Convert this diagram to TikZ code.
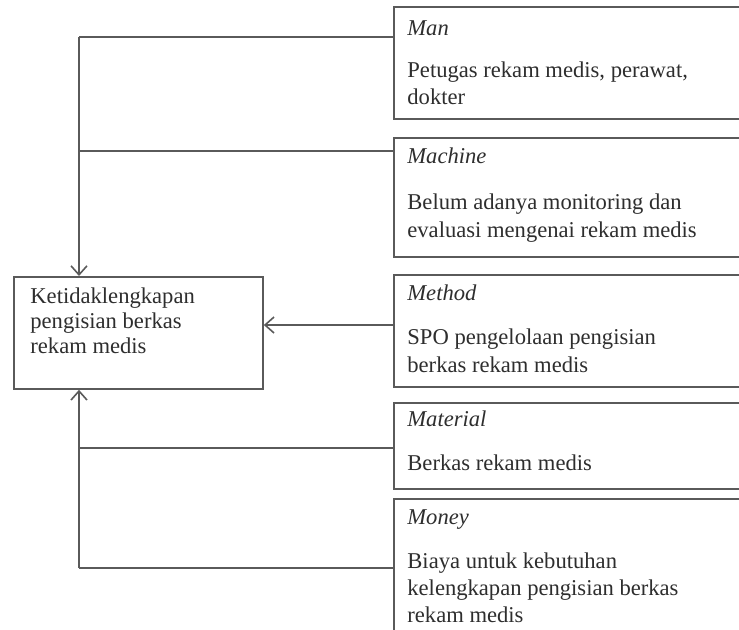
\documentclass[tikz,border=0pt]{standalone}
\usepackage{fontspec}
\setmainfont{Liberation Serif}
\usetikzlibrary{arrows.meta}
\definecolor{ln}{HTML}{5A5A5A}
\definecolor{tx}{HTML}{2E2E2E}
\tikzset{
  box/.style={draw=ln, line width=0.9pt, anchor=north west, inner sep=0pt},
  lbl/.style={anchor=base west, inner sep=0pt, text=tx, font=\fontsize{11.3}{13}\selectfont},
  conn/.style={draw=ln, line width=0.9pt},
  arr/.style={conn, -{Straight Barb[length=4.5pt,width=8pt,line width=0.8pt]}}
}
\begin{document}
\begin{tikzpicture}[x=0.5pt,y=-0.5pt]
\clip (0,0) rectangle (739,629);
\fill[white] (0,0) rectangle (739,629);
% effect box
\node[box, minimum width=124.5pt, minimum height=56pt] (eff) at (13,276) {};
\node[lbl] (e1) at (30,303) {Ketidaklengkapan};
\node[lbl] (e2) at (30,328) {pengisian berkas};
\node[lbl] (e3) at (30,353) {rekam medis};
% cause boxes
\node[box, minimum width=200pt, minimum height=56pt] (man) at (393,6) {};
\node[lbl] (t1) at (407,35) {\textit{Man}};
\node[lbl] at (407,77) {Petugas rekam medis, perawat,};
\node[lbl] at (407,104) {dokter};
\node[box, minimum width=200pt, minimum height=59.5pt] (mac) at (393,137) {};
\node[lbl] (t2) at (407,163) {\textit{Machine}};
\node[lbl] at (407,209) {Belum adanya monitoring dan};
\node[lbl] at (407,237) {evaluasi mengenai rekam medis};
\node[box, minimum width=200pt, minimum height=56pt] (met) at (393,274) {};
\node[lbl] (t3) at (407,300) {\textit{Method}};
\node[lbl] at (407,344) {SPO pengelolaan pengisian};
\node[lbl] at (407,372) {berkas rekam medis};
\node[box, minimum width=200pt, minimum height=43pt] (mat) at (393,402) {};
\node[lbl] (t4) at (407,426) {\textit{Material}};
\node[lbl] at (407,470) {Berkas rekam medis};
\node[box, minimum width=200pt, minimum height=80pt] (mon) at (393,498) {};
\node[lbl] (t5) at (407,524) {\textit{Money}};
\node[lbl] at (407,568) {Biaya untuk kebutuhan};
\node[lbl] at (407,595) {kelengkapan pengisian berkas};
\node[lbl] at (407,622) {rekam medis};
% connectors
\coordinate (ctop) at (79,37);
\coordinate (cbot) at (79,568);
\draw[conn] (man.west |- 0,37) -- (ctop);
\draw[arr] (ctop) -- (eff.north -| ctop);
\draw[conn] (mac.west |- 0,151) -- (ctop |- 0,151);
\draw[arr] (met.west |- 0,325) -- (eff.east |- 0,325);
\draw[conn] (mon.west |- 0,568) -- (cbot);
\draw[arr] (cbot) -- (eff.south -| cbot);
\draw[conn] (mat.west |- 0,448) -- (cbot |- 0,448);
\end{tikzpicture}
\end{document}
